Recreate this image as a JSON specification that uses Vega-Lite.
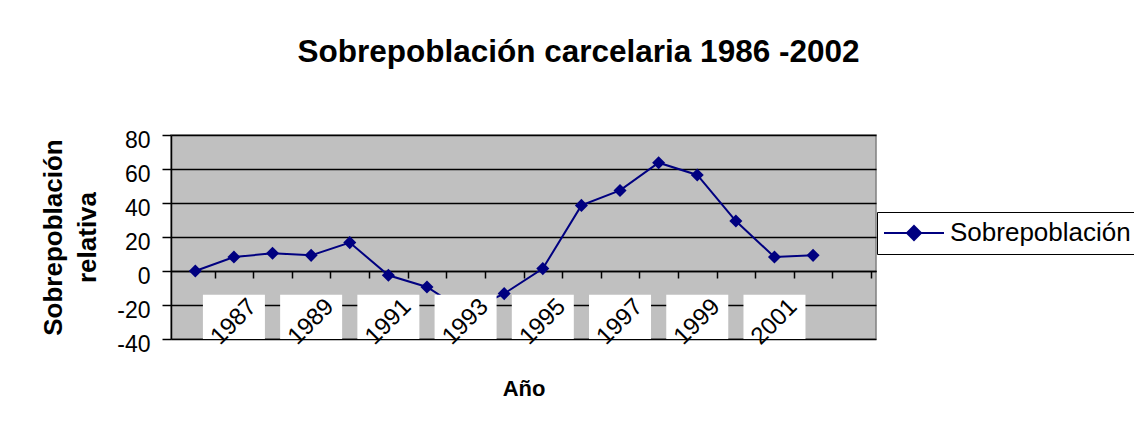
{
  "$schema": "https://vega.github.io/schema/vega-lite/v6.json",
  "width": 705,
  "height": 204,
  "autosize": {"type": "none"},
  "padding": {"left": 171, "top": 135, "right": 258, "bottom": 84},
  "background": "white",
  "title": {
    "text": "Sobrepoblación carcelaria 1986 -2002",
    "font": "Liberation Sans",
    "fontSize": 31.5,
    "fontWeight": "bold",
    "color": "black",
    "anchor": "middle",
    "frame": "group",
    "dx": 55,
    "offset": 61,
    "baseline": "top"
  },
  "config": {
    "view": {"fill": "#C0C0C0", "stroke": "#808080", "strokeWidth": 1.5},
    "font": "Liberation Sans"
  },
  "datasets": {
    "series": [
      {"year": 1986, "value": 0},
      {"year": 1987, "value": 8.2},
      {"year": 1988, "value": 10.4},
      {"year": 1989, "value": 9.2},
      {"year": 1990, "value": 16.7},
      {"year": 1991, "value": -2.5},
      {"year": 1992, "value": -9.4},
      {"year": 1993, "value": -24},
      {"year": 1994, "value": -13.3},
      {"year": 1995, "value": 1.4},
      {"year": 1996, "value": 38.6},
      {"year": 1997, "value": 47.4},
      {"year": 1998, "value": 63.7},
      {"year": 1999, "value": 56.5},
      {"year": 2000, "value": 29.4},
      {"year": 2001, "value": 8.2},
      {"year": 2002, "value": 9.2}
    ],
    "labels": [
      {"year": 1987, "label": "1987"},
      {"year": 1989, "label": "1989"},
      {"year": 1991, "label": "1991"},
      {"year": 1993, "label": "1993"},
      {"year": 1995, "label": "1995"},
      {"year": 1997, "label": "1997"},
      {"year": 1999, "label": "1999"},
      {"year": 2001, "label": "2001"}
    ]
  },
  "layer": [
    {
      "data": {"name": "series"},
      "mark": {
        "type": "line",
        "strokeWidth": 2,
        "point": {"shape": "diamond", "size": 170, "filled": true}
      },
      "encoding": {
        "x": {
          "field": "year",
          "type": "quantitative",
          "scale": {"domain": [1985.5, 2003.5], "nice": false, "zero": false},
          "axis": {
            "orient": "bottom",
            "offset": -68,
            "values": [1986.5, 1987.5, 1988.5, 1989.5, 1990.5, 1991.5, 1992.5, 1993.5, 1994.5, 1995.5, 1996.5, 1997.5, 1998.5, 1999.5, 2000.5, 2001.5, 2002.5, 2003.5],
            "labels": false,
            "grid": false,
            "ticks": true,
            "tickSize": 7,
            "tickColor": "black",
            "tickWidth": 1.5,
            "domainColor": "black",
            "domainWidth": 1.5,
            "title": "Año",
            "titleFont": "Liberation Sans",
            "titleFontSize": 22,
            "titleFontWeight": "bold",
            "titleColor": "black",
            "titleBaseline": "alphabetic",
            "titleY": 124
          }
        },
        "y": {
          "field": "value",
          "type": "quantitative",
          "scale": {"domain": [-40, 80], "nice": false},
          "axis": {
            "values": [-40, -20, 0, 20, 40, 60, 80],
            "tickCount": 7,
            "labelOverlap": false,
            "labelExpr": "'' + datum.value",
            "grid": true,
            "gridColor": "black",
            "gridWidth": 1.5,
            "domainColor": "black",
            "domainWidth": 1.5,
            "tickColor": "black",
            "tickWidth": 1.5,
            "tickSize": 9,
            "labelFont": "Liberation Sans",
            "labelFontSize": 23,
            "labelColor": "black",
            "labelPadding": 12,
            "labelOffset": 5,
            "title": ["Sobrepoblación", "relativa"],
            "titleFont": "Liberation Sans",
            "titleFontSize": 26,
            "titleFontWeight": "bold",
            "titleColor": "black",
            "titleLineHeight": 34,
            "titlePadding": 16
          }
        },
        "color": {
          "datum": "Sobrepoblación",
          "type": "nominal",
          "scale": {"range": ["#000080"]},
          "legend": {
            "title": null,
            "orient": "none",
            "legendX": 706,
            "legendY": 77,
            "strokeColor": "black",
            "fillColor": "white",
            "padding": 8,
            "symbolType": "M-3,0H3M0,-0.7L0.7,0L0,0.7L-0.7,0Z",
            "symbolSize": 400,
            "symbolOffset": 16,
            "symbolFillColor": "#000080",
            "symbolStrokeColor": "#000080",
            "symbolStrokeWidth": 2,
            "labelOffset": 23,
            "labelFont": "Liberation Sans",
            "labelFontSize": 26,
            "labelColor": "black",
            "labelLimit": 400
          }
        }
      }
    },
    {
      "data": {"name": "labels"},
      "mark": {"type": "bar", "width": 62, "fill": "white"},
      "encoding": {
        "x": {"field": "year", "type": "quantitative"},
        "y": {"datum": -40},
        "y2": {"datum": -14}
      }
    },
    {
      "data": {"name": "labels"},
      "mark": {"type": "text", "angle": -45, "fontSize": 24, "font": "Liberation Sans", "color": "black", "align": "center", "baseline": "middle"},
      "encoding": {
        "x": {"field": "year", "type": "quantitative"},
        "y": {"datum": -30},
        "text": {"field": "label"}
      }
    }
  ]
}
